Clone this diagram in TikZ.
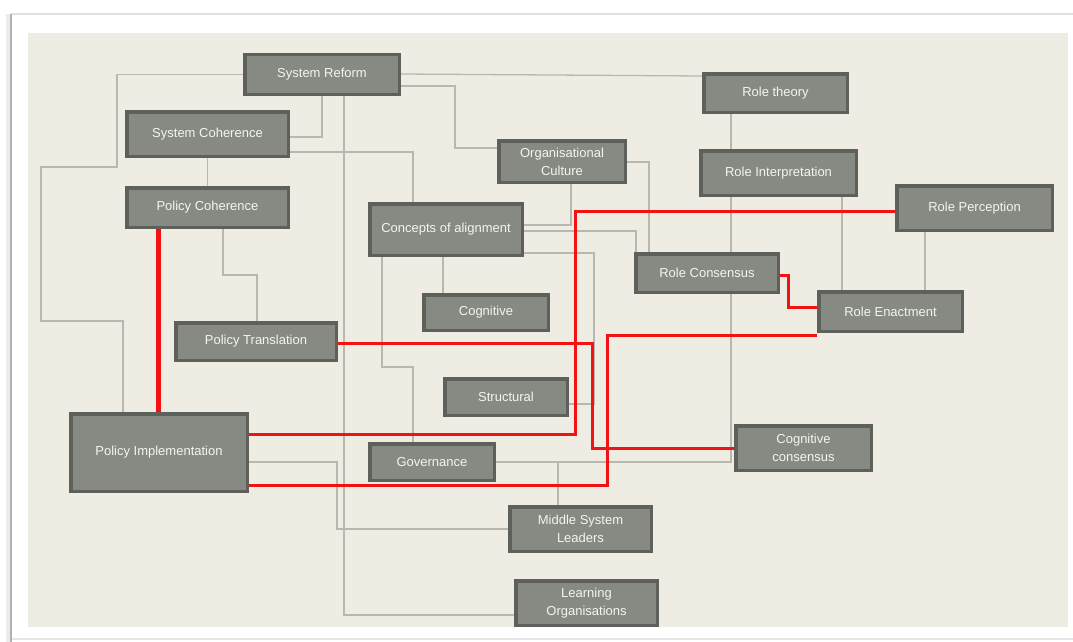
\documentclass[tikz,border=0pt]{standalone}
\usepackage{fontspec}
\setmainfont{Liberation Sans}
\pgfdeclarelayer{panel}
\pgfdeclarelayer{wires}
\pgfsetlayers{panel,wires,main}
\definecolor{paper}{HTML}{EFECE3}
\definecolor{boxfill}{HTML}{878A83}
\definecolor{boxedge}{HTML}{5E605B}
\definecolor{boxtext}{HTML}{F4F4F0}
\definecolor{wire}{HTML}{B9B7B0}
\definecolor{hot}{HTML}{F21212}
\tikzset{
  box/.style={draw=boxedge, fill=boxfill, line width=3.5pt, text=boxtext,
    font=\fontsize{13}{18}\selectfont, align=center, inner sep=0pt},
  link/.style={draw=wire, line width=1.3pt},
  redlink/.style={draw=hot, line width=3pt},
}
\begin{document}
\begin{tikzpicture}[x=1pt,y=-1pt]
\useasboundingbox (0,0) rectangle (1073,642);

% concepts
\node[box, minimum width=154.5pt, minimum height=39.5pt] (sr)  at (322,74.5)   {System Reform};
\node[box, minimum width=161.5pt, minimum height=44.5pt] (sc)  at (207.5,134)  {System Coherence};
\node[box, minimum width=161.5pt, minimum height=39.5pt] (pc)  at (207.5,207.5){Policy Coherence};
\node[box, minimum width=126.5pt, minimum height=41.5pt] (oc)  at (562,161.5)  {Organisational\\Culture};
\node[box, minimum width=143.5pt, minimum height=38.5pt] (rt)  at (775.5,93)   {Role theory};
\node[box, minimum width=155.5pt, minimum height=44.5pt] (ri)  at (778.5,173)  {Role Interpretation};
\node[box, minimum width=155.5pt, minimum height=44.5pt] (rp)  at (974.5,208)  {Role Perception};
\node[box, minimum width=152.5pt, minimum height=51.5pt] (coa) at (446,229.5)  {Concepts of alignment};
\node[box, minimum width=142.5pt, minimum height=38.5pt] (rc)  at (707,273)    {Role Consensus};
\node[box, minimum width=143.5pt, minimum height=39.5pt] (re)  at (890.5,311.5){Role Enactment};
\node[box, minimum width=124.5pt, minimum height=35.5pt] (cog) at (486,312.5)  {Cognitive};
\node[box, minimum width=160.5pt, minimum height=37.5pt] (pt)  at (256,341.5)  {Policy Translation};
\node[box, minimum width=122.5pt, minimum height=36.5pt] (st)  at (506,397)    {Structural};
\node[box, minimum width=176.5pt, minimum height=77.5pt] (pi)  at (159,452.5)  {Policy Implementation};
\node[box, minimum width=124.5pt, minimum height=36.5pt] (gov) at (432,462)    {Governance};
\node[box, minimum width=135.5pt, minimum height=44.5pt] (cc)  at (803.5,448)  {Cognitive\\consensus};
\node[box, minimum width=141.5pt, minimum height=44.5pt] (msl) at (580.5,529)  {Middle System\\Leaders};
\node[box, minimum width=141.5pt, minimum height=44.5pt] (lo)  at (586.5,603)  {Learning\\Organisations};

% page, frame and panel
\begin{pgfonlayer}{panel}
  \fill[white] (0,0) rectangle (1073,642);
  \draw[black!12, line width=1.5pt] (11,14) -- (1073,14);
  \draw[black!10, line width=1.5pt] (11,639) -- (1073,639);
  \draw[black!8, line width=4pt] (8,14) -- (8,642);
  \draw[black!30, line width=1.5pt] (11,14) -- (11,642);
  \fill[paper] (28,33) rectangle (1068,627);
\end{pgfonlayer}

% connectors
\begin{pgfonlayer}{wires}
  \draw[link] (sr.west) -- (117,74.5) -- (117,167) -- (41,167) -- (41,321) -- (123,321) -- (pi.north -| 123,0);
  \draw[link] (sr.south) -- (322,137) -- (sc.east |- 0,137);
  \draw[link] (sr.south -| 344,0) -- (344,615) -- (lo.west |- 0,615);
  \draw[link] (sr.east |- 0,74) -- (rt.west |- 0,76);
  \draw[link] (sr.east |- 0,86) -- (455,86) -- (455,148) -- (oc.west |- 0,148);
  \draw[link] (sc.east |- 0,152) -- (413,152) -- (coa.north -| 413,0);
  \draw[link] (sc.south) -- (pc.north);
  \draw[link] (pc.south -| 223,0) -- (223,275) -- (257,275) -- (pt.north -| 257,0);
  \draw[link] (coa.south -| 443,0) -- (cog.north -| 443,0);
  \draw[link] (coa.south -| 382,0) -- (382,367) -- (413,367) -- (gov.north -| 413,0);
  \draw[link] (oc.south -| 571,0) -- (571,225) -- (coa.east |- 0,225);
  \draw[link] (coa.east |- 0,231) -- (636,231) -- (rc.north -| 636,0);
  \draw[link] (coa.east |- 0,253) -- (594,253) -- (594,404) -- (st.east |- 0,404);
  \draw[link] (oc.east |- 0,162) -- (649,162) -- (rc.north -| 649,0);
  \draw[link] (rt.south -| 731,0) -- (ri.north -| 731,0);
  \draw[link] (ri.south -| 731,0) -- (rc.north -| 731,0);
  \draw[link] (rc.south -| 731,0) -- (731,462) -- (gov.east |- 0,462);
  \draw[link] (gov.east |- 0,462) -- (558,462) -- (msl.north -| 558,0);
  \draw[link] (ri.south -| 842,0) -- (re.north -| 842,0);
  \draw[link] (rp.south -| 925,0) -- (re.north -| 925,0);
  \draw[link] (pi.east |- 0,462) -- (337,462) -- (337,529) -- (msl.west |- 0,529);

  \draw[redlink, line width=5pt] (pc.south -| 158,0) -- (pi.north -| 158,0);
  \draw[redlink] (rc.east |- 0,275) -- (788,275) -- (788,307) -- (re.west |- 0,307);
  \draw[redlink] (rp.west |- 0,211) -- (575,211) -- (575,434) -- (pi.east |- 0,434);
  \draw[redlink] (pt.east |- 0,343) -- (592,343) -- (592,448) -- (cc.west |- 0,448);
  \draw[redlink] (re.west |- 0,335) -- (607,335) -- (607,485) -- (pi.east |- 0,485);
\end{pgfonlayer}
\end{tikzpicture}
\end{document}
